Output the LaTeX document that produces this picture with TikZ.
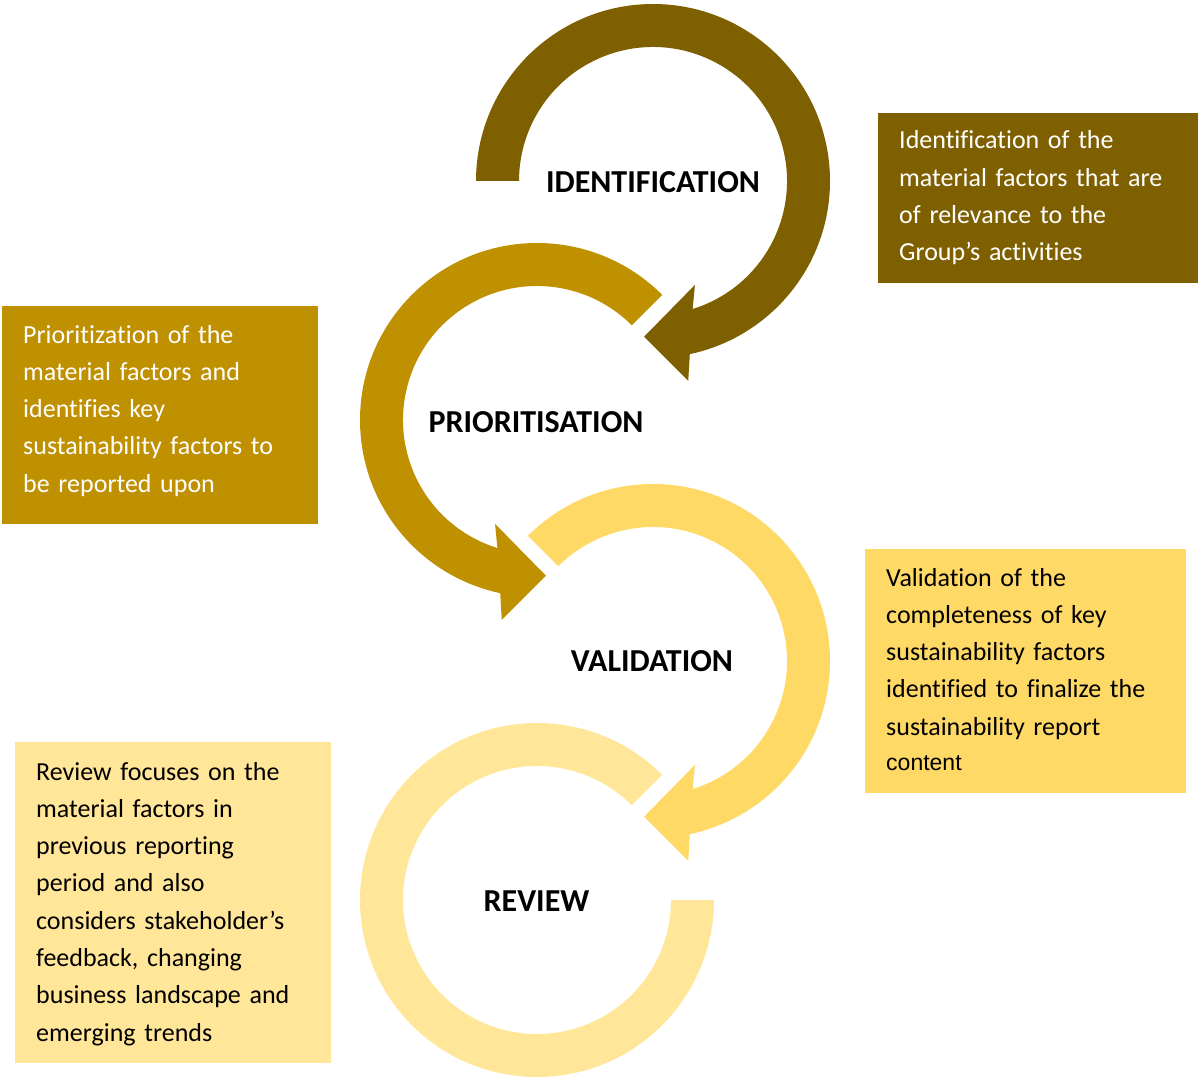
\documentclass[tikz,border=0pt]{standalone}
\usepackage{fontspec}
\setmainfont{Carlito}[Ligatures=NoCommon]
\newfontfamily\arialfont{Liberation Sans}
\usetikzlibrary{calc}
\definecolor{cDark}{HTML}{7F6000}
\definecolor{cMid}{HTML}{BF9000}
\definecolor{cLight}{HTML}{FFD966}
\definecolor{cPale}{HTML}{FFE699}
\begin{document}
\begin{tikzpicture}[x=1pt,y=1pt,
  lbl/.style={font=\fontsize{32}{37}\selectfont\bfseries, inner sep=0pt, text=black},
  boxbg/.style={inner sep=0pt, outer sep=0pt, anchor=north west, draw=none},
  boxtxt/.style={font=\fontsize{26}{37.3}\selectfont, inner sep=0pt, anchor=base west, text width=300pt, align=left}]
\useasboundingbox (0,0) rectangle (1198,-1078);
\coordinate (C1) at (653,-181);
\coordinate (C2) at (537,-420);
\coordinate (C3) at (653,-661);
\coordinate (C4) at (537,-900);
% circular arrows
\fill[cDark] ($(C1)+(180:177)$) arc[start angle=180,end angle=-78,radius=177]
  -- ($(C1)+(-80:203)$) -- ($(C1)+(-93.3:156)$) -- ($(C1)+(-68:112)$)
  -- ($(C1)+(-72.8:134)$) arc[start angle=-72.8,end angle=180,radius=134] -- cycle;
\fill[cMid] ($(C2)+(45:177)$) arc[start angle=45,end angle=258,radius=177]
  -- ($(C2)+(-100:203)$) -- ($(C2)+(-86.7:156)$) -- ($(C2)+(-112:112)$)
  -- ($(C2)+(-107.2:134)$) arc[start angle=252.8,end angle=45,radius=134] -- cycle;
\fill[cLight] ($(C3)+(135:177)$) arc[start angle=135,end angle=-78,radius=177]
  -- ($(C3)+(-80:203)$) -- ($(C3)+(-93.3:156)$) -- ($(C3)+(-68:112)$)
  -- ($(C3)+(-72.8:134)$) arc[start angle=-72.8,end angle=135,radius=134] -- cycle;
\fill[cPale] ($(C4)+(45:177)$) arc[start angle=45,end angle=360,radius=177]
  -- ($(C4)+(0:134)$) arc[start angle=360,end angle=45,radius=134] -- cycle;
% labels
\node[lbl] (lid) at (653,-182) {IDENTIFICATION};
\node[lbl] (lpr) at (536,-422) {PRIORITISATION};
\node[lbl] (lva) at (652,-661) {VALIDATION};
\node[lbl] (lrv) at (536.5,-901) {REVIEW};
% boxes
\node[boxbg, fill=cDark, minimum width=320pt, minimum height=170pt] (idbox) at (878,-113) {};
\node[boxbg, fill=cMid, minimum width=316pt, minimum height=218pt] (prbox) at (2,-306) {};
\node[boxbg, fill=cLight, minimum width=321pt, minimum height=244pt] (vabox) at (865,-549) {};
\node[boxbg, fill=cPale, minimum width=316pt, minimum height=321pt] (rvbox) at (15,-742) {};
\node[boxtxt, text=white] (idtext) at (899,-149) {Identification of the\\material factors that are\\of relevance to the\\Group’s activities};
\node[boxtxt, text=white] (prtext) at (23,-343) {Prioritization of the\\material factors and\\identifies key\\sustainability factors to\\be reported upon};
\node[boxtxt, text=black] (vatext) at (886,-586) {Validation of the\\completeness of key\\sustainability factors\\identified to finalize the\\sustainability report};
\node[inner sep=0pt, anchor=base west, font=\arialfont\fontsize{23}{27}\selectfont, text=black] (vatext2) at (886,-770) {content};
\node[boxtxt, text=black] (rvtext) at (36,-780) {Review focuses on the\\material factors in\\previous reporting\\period and also\\considers stakeholder’s\\feedback, changing\\business landscape and\\emerging trends};
\end{tikzpicture}
\end{document}
